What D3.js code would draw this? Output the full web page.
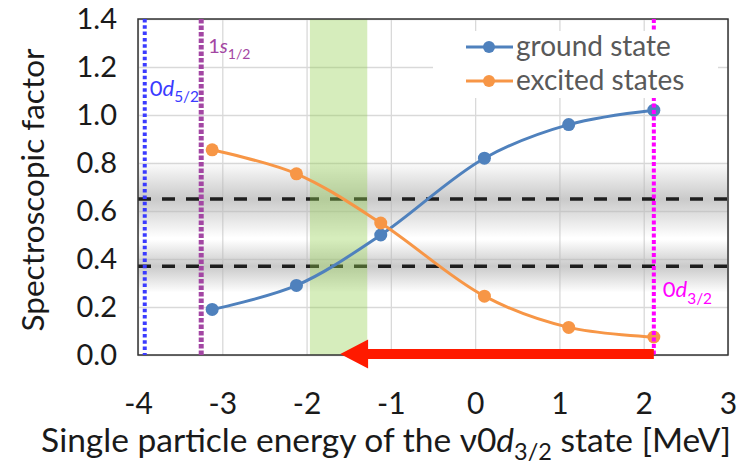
<!DOCTYPE html>
<html>
<head>
<meta charset="utf-8">
<script src="https://cdn.jsdelivr.net/npm/d3@7"></script>
<style>
  body { margin: 0; background: #fff; }
  svg { display: block; font-family: Lato, "Open Sans", sans-serif; }
</style>
</head>
<body>
<div id="chart"></div>
<script>
// -------------------------------------------------------------------------
// Data

const xTicks = [-4, -3, -2, -1, 0, 1, 2, 3];
const yTicks = [0, 0.2, 0.4, 0.6, 0.8, 1.0, 1.2, 1.4];

const energies = [-3.12, -2.12, -1.12, 0.11, 1.11, 2.12];
const groundState = [0.19, 0.29, 0.50, 0.82, 0.96, 1.02];
const excitedStates = [0.855, 0.755, 0.55, 0.245, 0.115, 0.075];
const seriesNames = ['ground state', 'excited states'];

// dashed reference levels and the grey band around each one
const refLevels = [0.65, 0.37];
const refBands = [[0.49, 0.81], [0.26, 0.48]];

// single particle levels (vertical dotted lines)
const levelEnergies = [-3.92, -3.25, 2.12];
const levelOrbit = ['0', '1', '0'];
const levelL = ['d', 's', 'd'];
const levelJ = ['5/2', '1/2', '3/2'];

// shaded window and arrow (energy values)
const greenWindow = [-1.96, -1.28];
const arrowFrom = 2.12;
const arrowTo = -1.6;
const arrowHeadBase = -1.27;

// -------------------------------------------------------------------------
// Layout

const width = 748;
const height = 470;
const margin = { top: 19, right: 20, bottom: 115, left: 138 };
const plotW = width - margin.left - margin.right;
const plotH = height - margin.top - margin.bottom;

const blue = '#4f81bd';
const orange = '#f79646';
const levelColors = ['#3b3bff', '#a346a3', '#ff00ff'];
const levelStyles = [
  { w: 4, dash: '3.5,2.8' },
  { w: 5, dash: '4.5,2' },
  { w: 4, dash: '4,2.5' }
];

const x = d3.scaleLinear().domain([-4, 3]).range([0, plotW]);
const y = d3.scaleLinear().domain([0, 1.4]).range([plotH, 0]);

const svg = d3.select('#chart').append('svg')
  .attr('width', width)
  .attr('height', height);

svg.append('rect').attr('width', width).attr('height', height).attr('fill', '#fff');

// shrink / grow a text element so it spans the wanted width
function fitWidth(sel, target) {
  const size = parseFloat(sel.attr('font-size'));
  const w = sel.node().getComputedTextLength();
  if (w > 0) sel.attr('font-size', size * target / w);
}

const defs = svg.append('defs');
const grad = defs.append('linearGradient')
  .attr('id', 'greyBand')
  .attr('x1', 0).attr('x2', 0).attr('y1', 0).attr('y2', 1);
grad.append('stop').attr('offset', '0%').attr('stop-color', '#b8b8b8').attr('stop-opacity', 0);
grad.append('stop').attr('offset', '50%').attr('stop-color', '#b8b8b8').attr('stop-opacity', 0.75);
grad.append('stop').attr('offset', '100%').attr('stop-color', '#b8b8b8').attr('stop-opacity', 0);

const g = svg.append('g').attr('transform', `translate(${margin.left},${margin.top})`);

// -------------------------------------------------------------------------
// Grid

g.append('g')
  .attr('transform', `translate(0,${plotH})`)
  .call(d3.axisBottom(x).tickValues(xTicks).tickSize(-plotH).tickFormat(''))
  .call(a => a.select('.domain').remove())
  .call(a => a.selectAll('line').attr('stroke', '#d9d9d9').attr('stroke-width', 1.3));

g.append('g')
  .call(d3.axisLeft(y).tickValues(yTicks).tickSize(-plotW).tickFormat(''))
  .call(a => a.select('.domain').remove())
  .call(a => a.selectAll('line').attr('stroke', '#d9d9d9').attr('stroke-width', 1.3));

// grey uncertainty bands
g.selectAll('.band')
  .data(refBands)
  .enter().append('rect')
  .attr('class', 'band')
  .attr('x', 0)
  .attr('width', plotW)
  .attr('y', d => y(d[1]))
  .attr('height', d => y(d[0]) - y(d[1]))
  .attr('fill', 'url(#greyBand)');

// dashed reference lines
g.selectAll('.ref')
  .data(refLevels)
  .enter().append('line')
  .attr('class', 'ref')
  .attr('x1', 0).attr('x2', plotW)
  .attr('y1', d => y(d)).attr('y2', d => y(d))
  .attr('stroke', '#1e1e1e')
  .attr('stroke-width', 3.5)
  .attr('stroke-dasharray', '13,11');

// green window
g.append('rect')
  .attr('x', x(greenWindow[0]))
  .attr('width', x(greenWindow[1]) - x(greenWindow[0]))
  .attr('y', 0)
  .attr('height', plotH)
  .attr('fill', '#92d050')
  .attr('opacity', 0.38);

// plot border
g.append('rect')
  .attr('width', plotW).attr('height', plotH)
  .attr('fill', 'none')
  .attr('stroke', '#333')
  .attr('stroke-width', 1.5);

// -------------------------------------------------------------------------
// Series

const line = d3.line()
  .x(d => x(d[0]))
  .y(d => y(d[1]))
  .curve(d3.curveCatmullRom.alpha(0.5));

const series = [
  { name: seriesNames[0], color: blue, pts: d3.zip(energies, groundState) },
  { name: seriesNames[1], color: orange, pts: d3.zip(energies, excitedStates) }
];

series.forEach(s => {
  g.append('path')
    .attr('d', line(s.pts))
    .attr('fill', 'none')
    .attr('stroke', s.color)
    .attr('stroke-width', 3);
  g.selectAll(null)
    .data(s.pts)
    .enter().append('circle')
    .attr('cx', d => x(d[0]))
    .attr('cy', d => y(d[1]))
    .attr('r', 6.5)
    .attr('fill', s.color);
});

// -------------------------------------------------------------------------
// Level lines

levelEnergies.forEach((e, i) => {
  g.append('line')
    .attr('x1', x(e)).attr('x2', x(e))
    .attr('y1', 0).attr('y2', plotH)
    .attr('stroke', levelColors[i])
    .attr('stroke-width', levelStyles[i].w)
    .attr('stroke-dasharray', levelStyles[i].dash);
});

// red arrow along the x axis
const headHalf = 14.5;
const shaftHalf = 5;
const ay = y(0) - 1;
const arrowPath = d3.path();
arrowPath.moveTo(x(arrowTo), ay);
arrowPath.lineTo(x(arrowHeadBase), ay - headHalf);
arrowPath.lineTo(x(arrowHeadBase), ay - shaftHalf);
arrowPath.lineTo(x(arrowFrom), ay - shaftHalf);
arrowPath.lineTo(x(arrowFrom), ay + shaftHalf);
arrowPath.lineTo(x(arrowHeadBase), ay + shaftHalf);
arrowPath.lineTo(x(arrowHeadBase), ay + headHalf);
arrowPath.closePath();
g.append('path').attr('d', arrowPath.toString()).attr('fill', '#ff1a00');

// -------------------------------------------------------------------------
// Legend

const legend = g.append('g').attr('transform', `translate(${433 - margin.left},${31 - margin.top})`);
legend.append('rect')
  .attr('width', 285).attr('height', 67)
  .attr('fill', '#fff');

series.forEach((s, i) => {
  const ly = 16 + i * 34;
  legend.append('line')
    .attr('x1', 33).attr('x2', 80)
    .attr('y1', ly).attr('y2', ly)
    .attr('stroke', s.color).attr('stroke-width', 3);
  legend.append('circle')
    .attr('cx', 56).attr('cy', ly).attr('r', 6)
    .attr('fill', s.color);
  legend.append('text')
    .attr('x', 83).attr('y', ly + 9)
    .attr('font-size', 28)
    .attr('fill', '#595959')
    .text(s.name);
});

// level labels
const levelLabelPos = [
  { dx: 5, y: 1.08, size: 22 },
  { dx: 7, y: 1.26, size: 20 },
  { dx: 9, y: 0.24, size: 22 }
];
levelEnergies.forEach((e, i) => {
  const p = levelLabelPos[i];
  const t = g.append('text')
    .attr('x', x(e) + p.dx)
    .attr('y', y(p.y))
    .attr('font-size', p.size)
    .attr('fill', levelColors[i]);
  t.append('tspan').text(levelOrbit[i]);
  t.append('tspan').attr('font-style', 'italic').text(levelL[i]);
  t.append('tspan')
    .attr('font-size', '0.7em')
    .attr('dy', p.size * 0.3)
    .text(levelJ[i]);
});

// -------------------------------------------------------------------------
// Axes

g.append('g')
  .attr('transform', `translate(0,${plotH})`)
  .call(d3.axisBottom(x).tickValues(xTicks).tickSize(0).tickPadding(38).tickFormat(d => String(d)))
  .call(a => a.select('.domain').remove())
  .call(a => a.selectAll('text')
    .attr('font-size', 30)
    .attr('font-family', 'Lato, sans-serif')
    .attr('fill', '#1a1a1a'));

g.append('g')
  .call(d3.axisLeft(y).tickValues(yTicks).tickSize(0).tickPadding(21).tickFormat(d3.format('.1f')))
  .call(a => a.select('.domain').remove())
  .call(a => a.selectAll('text')
    .attr('font-size', 29)
    .attr('font-family', 'Lato, sans-serif')
    .attr('fill', '#1a1a1a'));

// axis titles
const xTitle = svg.append('text')
  .attr('x', 386)
  .attr('y', 452)
  .attr('text-anchor', 'middle')
  .attr('font-size', 30)
  .attr('fill', '#1a1a1a');
xTitle.append('tspan').text('Single particle energy of the ν0');
xTitle.append('tspan').attr('font-style', 'italic').text('d');
xTitle.append('tspan').attr('font-size', '0.7em').attr('dy', 8).text('3/2');
xTitle.append('tspan').attr('dy', -8).text(' state [MeV]');
fitWidth(xTitle, 690);

const yTitle = svg.append('text')
  .attr('transform', 'translate(44,190) rotate(-90)')
  .attr('text-anchor', 'middle')
  .attr('font-size', 30)
  .attr('fill', '#1a1a1a')
  .text('Spectroscopic factor');
fitWidth(yTitle, 283);
</script>
</body>
</html>
